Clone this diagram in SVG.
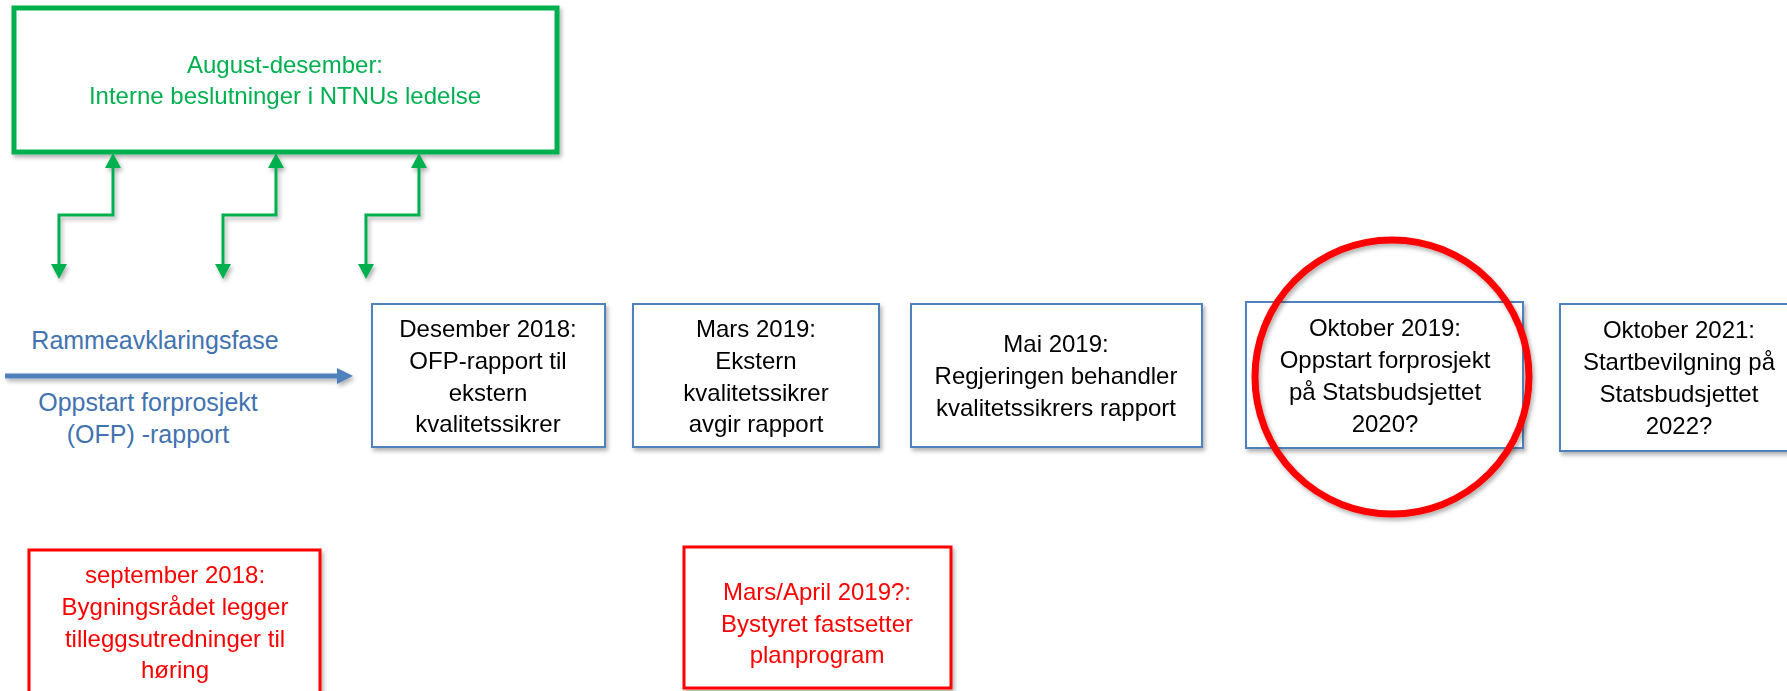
<svg xmlns="http://www.w3.org/2000/svg" width="1787" height="691" viewBox="0 0 1787 691">
<style>
text{font-family:"Liberation Sans",Arial,sans-serif;font-size:24px;text-anchor:middle}
.blk{fill:#000}
.grn{fill:#00B050}
.red{fill:#FF0000}
.blu{fill:#4272B0;font-size:25px}
.bbox{fill:#fff;stroke:#4F81BD;stroke-width:2}
.rbox{fill:#fff;stroke:#FF0000;stroke-width:3}
.gconn{fill:none;stroke:#00B050;stroke-width:3}
</style>
<defs>
<filter id="sh" x="-10%" y="-10%" width="130%" height="140%">
<feDropShadow dx="2" dy="3" stdDeviation="2" flood-color="#000" flood-opacity="0.3"/>
</filter>
<marker id="ga" viewBox="0 0 15 16" refX="0" refY="8" markerWidth="15" markerHeight="16" markerUnits="userSpaceOnUse" orient="auto-start-reverse">
<path d="M0,0 L15,8 L0,16 z" fill="#00B050"/>
</marker>
<marker id="ba" viewBox="0 0 16 16" refX="0" refY="8" markerWidth="16" markerHeight="16" markerUnits="userSpaceOnUse" orient="auto">
<path d="M0,0 L16,8 L0,16 z" fill="#4F81BD"/>
</marker>
</defs>
<rect width="1787" height="691" fill="#fff"/>

<g id="ntnu-ledelse" filter="url(#sh)">
<rect x="14" y="8" width="543" height="144" fill="#fff" stroke="#00B050" stroke-width="5"/>
<text class="grn" x="285" y="73">August-desember:</text>
<text class="grn" x="285" y="104">Interne beslutninger i NTNUs ledelse</text>
</g>

<g id="connectors" filter="url(#sh)">
<path class="gconn" d="M59,264 V215 H113 V168" marker-start="url(#ga)" marker-end="url(#ga)"/>
<path class="gconn" d="M223,264 V215 H276 V168" marker-start="url(#ga)" marker-end="url(#ga)"/>
<path class="gconn" d="M366,264 V215 H419 V168" marker-start="url(#ga)" marker-end="url(#ga)"/>
<path d="M5,376 H337" fill="none" stroke="#4F81BD" stroke-width="5" marker-end="url(#ba)"/>
</g>

<g id="fase-labels">
<text class="blu" x="155" y="349">Rammeavklaringsfase</text>
<text class="blu" x="148" y="411">Oppstart forprosjekt</text>
<text class="blu" x="148" y="443">(OFP) -rapport</text>
</g>

<g id="des2018" filter="url(#sh)">
<rect class="bbox" x="372" y="304" width="233" height="143"/>
<text class="blk" x="488" y="337">Desember 2018:</text>
<text class="blk" x="488" y="369">OFP-rapport til</text>
<text class="blk" x="488" y="401">ekstern</text>
<text class="blk" x="488" y="432">kvalitetssikrer</text>
</g>

<g id="mars2019" filter="url(#sh)">
<rect class="bbox" x="633" y="304" width="246" height="143"/>
<text class="blk" x="756" y="337">Mars 2019:</text>
<text class="blk" x="756" y="369">Ekstern</text>
<text class="blk" x="756" y="401">kvalitetssikrer</text>
<text class="blk" x="756" y="432">avgir rapport</text>
</g>

<g id="mai2019" filter="url(#sh)">
<rect class="bbox" x="911" y="304" width="291" height="143"/>
<text class="blk" x="1056" y="352">Mai 2019:</text>
<text class="blk" x="1056" y="384">Regjeringen behandler</text>
<text class="blk" x="1056" y="416">kvalitetssikrers rapport</text>
</g>

<g id="okt2019" filter="url(#sh)">
<rect class="bbox" x="1246" y="302" width="277" height="146"/>
<text class="blk" x="1385" y="336">Oktober 2019:</text>
<text class="blk" x="1385" y="368">Oppstart forprosjekt</text>
<text class="blk" x="1385" y="400">på Statsbudsjettet</text>
<text class="blk" x="1385" y="432">2020?</text>
</g>

<g id="okt2021" filter="url(#sh)">
<rect class="bbox" x="1560" y="304" width="280" height="147"/>
<text class="blk" x="1679" y="338">Oktober 2021:</text>
<text class="blk" x="1679" y="370">Startbevilgning på</text>
<text class="blk" x="1679" y="402">Statsbudsjettet</text>
<text class="blk" x="1679" y="434">2022?</text>
</g>

<g id="highlight" filter="url(#sh)">
<circle cx="1392" cy="377" r="137" fill="none" stroke="#FF0000" stroke-width="7"/>
</g>

<g id="sep2018" filter="url(#sh)">
<rect class="rbox" x="29" y="550" width="291" height="160"/>
<text class="red" x="175" y="583">september 2018:</text>
<text class="red" x="175" y="615">Bygningsrådet legger</text>
<text class="red" x="175" y="647">tilleggsutredninger til</text>
<text class="red" x="175" y="678">høring</text>
</g>

<g id="marsapril2019" filter="url(#sh)">
<rect class="rbox" x="684" y="547" width="267" height="141"/>
<text class="red" x="817" y="600">Mars/April 2019?:</text>
<text class="red" x="817" y="632">Bystyret fastsetter</text>
<text class="red" x="817" y="663">planprogram</text>
</g>
</svg>
